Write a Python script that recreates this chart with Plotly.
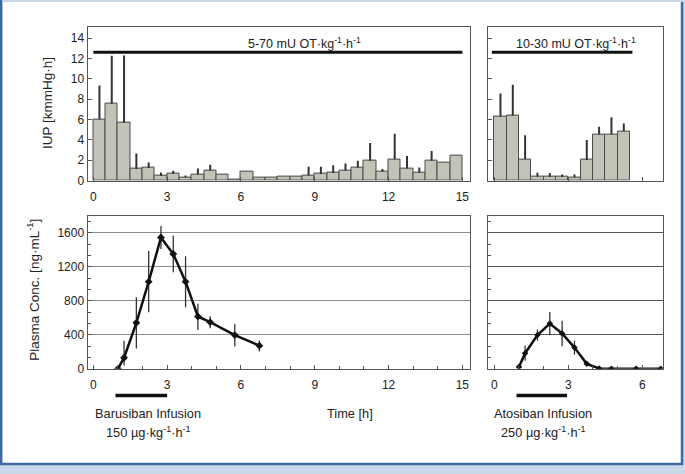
import plotly.graph_objects as go

# ---------------- data ----------------
# IUP bars (0.5 h bins), Barusiban study (left)
bin_start_L = [0, 0.5, 1, 1.5, 2, 2.5, 3, 3.5, 4, 4.5, 5, 5.5, 6, 6.5, 7, 7.5, 8, 8.5, 9, 9.5,
               10, 10.5, 11, 11.5, 12, 12.5, 13, 13.5, 14, 14.5]
iup_L = [6.03, 7.55, 5.68, 1.13, 1.23, 0.45, 0.68, 0.32, 0.6, 1.0, 0.58, 0.13, 0.87, 0.29, 0.27,
         0.35, 0.35, 0.5, 0.65, 0.74, 0.97, 1.26, 1.94, 0.87, 2.1, 1.19, 0.77, 1.94, 1.77, 2.45]
iup_L_top = [9.35, 12.26, 12.3, 2.65, 1.77, 0.8, 0.97, 0.5, 1.2, 1.55, 0.58, 0.13, 0.87, 0.29, 0.27,
             0.35, 0.35, 1.35, 1.35, 1.5, 1.68, 1.94, 3.7, 1.13, 4.6, 2.42, 1.29, 2.9, 1.77, 2.45]

# IUP bars, Atosiban study (right)
bin_start_R = [0, 0.5, 1, 1.5, 2, 2.5, 3, 3.5, 4, 4.5, 5]
iup_R = [6.29, 6.39, 2.1, 0.39, 0.35, 0.35, 0.32, 2.03, 4.52, 4.55, 4.84]
iup_R_top = [8.55, 9.42, 4.45, 0.77, 0.74, 0.6, 0.6, 4.0, 5.29, 6.23, 5.6]

# Plasma concentrations
t_baru = [1, 1.25, 1.75, 2.25, 2.75, 3.25, 3.75, 4.25, 4.75, 5.75, 6.75]
c_baru = [0, 130, 540, 1025, 1545, 1350, 1025, 615, 548, 397, 272]
e_baru_up = [0, 200, 300, 360, 135, 215, 300, 150, 70, 130, 60]
e_baru_dn = [0, 90, 300, 360, 135, 215, 300, 160, 70, 135, 70]

t_ato = [1, 1.25, 1.75, 2.25, 2.75, 3.25, 3.75, 4.25, 4.75, 5.75, 6.75]
c_ato = [20, 183, 396, 532, 415, 249, 58, 4, 0, 0, 0]
e_ato = [0, 90, 65, 135, 150, 80, 20, 0, 0, 0, 0]

# infusion periods [h]
baru_inf = [0.9, 3.0]
ato_inf = [0.9, 2.95]

bin_w = 0.5

W, H = 685, 474
def px(x): return x / W
def py(y): return 1 - y / H

FONT = "Liberation Sans, Arial, sans-serif"
BAR_FILL = "#c2c2b6"
BAR_LINE = "#4a4a4a"

fig = go.Figure()

def add_bars(starts, vals, tops, xa, ya):
    fig.add_trace(go.Bar(
        x=[s + bin_w / 2 for s in starts], y=vals, width=bin_w,
        marker=dict(color=BAR_FILL, line=dict(color=BAR_LINE, width=1)),
        error_y=dict(type="data", symmetric=False,
                     array=[t - v for t, v in zip(tops, vals)],
                     arrayminus=[0] * len(vals),
                     width=0, thickness=2, color="#333333"),
        xaxis=xa, yaxis=ya, showlegend=False))

add_bars(bin_start_L, iup_L, iup_L_top, "x", "y")
add_bars(bin_start_R, iup_R, iup_R_top, "x2", "y2")

fig.add_trace(go.Scatter(
    x=t_baru, y=c_baru, mode="lines+markers",
    line=dict(color="#111111", width=2.5),
    marker=dict(symbol="diamond", size=6, color="#111111"),
    error_y=dict(type="data", symmetric=False, array=e_baru_up, arrayminus=e_baru_dn,
                 width=0, thickness=1.3, color="#333333"),
    xaxis="x3", yaxis="y3", showlegend=False))

fig.add_trace(go.Scatter(
    x=t_ato, y=c_ato, mode="lines+markers",
    line=dict(color="#111111", width=2.5),
    marker=dict(symbol="diamond", size=5, color="#111111"),
    error_y=dict(type="data", array=e_ato, width=0, thickness=1.3, color="#333333"),
    xaxis="x4", yaxis="y4", showlegend=False))

tickfont = dict(family=FONT, size=12, color="#222222")
common = dict(showline=True, linecolor="#555555", linewidth=1, mirror=True,
              ticks="inside", ticklen=4, tickcolor="#555555", tickfont=tickfont,
              zeroline=False, showgrid=False, fixedrange=True)
xcommon = dict(common, ticklabelstandoff=5)

dom_xL = [px(87.5), px(470)]
dom_xR = [px(488), px(663)]
dom_yT = [py(183.3), py(27)]
dom_yB = [py(374.3), py(219)]

fig.update_layout(
    autosize=True,
    margin=dict(l=0, r=0, t=0, b=0),
    paper_bgcolor="#c9d7e8", plot_bgcolor="white",
    bargap=0,
    font=dict(family=FONT, color="#222222"),
    xaxis=dict(domain=dom_xL, anchor="y", range=[-0.236, 15.31], dtick=3, tick0=0, **xcommon),
    yaxis=dict(domain=dom_yT, anchor="x", range=[0, 15.13], dtick=2, tick0=0, **common),
    xaxis2=dict(domain=dom_xR, anchor="y2", range=[-0.255, 6.84], dtick=3, tick0=0,
                showticklabels=False, **xcommon),
    yaxis2=dict(domain=dom_yT, anchor="x2", range=[0, 15.13], dtick=2, tick0=0,
                showticklabels=False, **common),
    xaxis3=dict(domain=dom_xL, anchor="y3", range=[-0.236, 15.31], dtick=3, tick0=0,
                minor=dict(dtick=1, ticks="inside", ticklen=3, tickcolor="#555555"), **xcommon),
    yaxis3=dict(domain=dom_yB, anchor="x3", range=[0, 1800], dtick=400, tick0=0,
                minor=dict(dtick=400 / 3, ticks="inside", ticklen=3, tickcolor="#555555"),
                **{**common, "showgrid": True}, gridcolor="#8c8c8c", gridwidth=1),
    xaxis4=dict(domain=dom_xR, anchor="y4", range=[-0.255, 6.84], dtick=3, tick0=0,
                minor=dict(dtick=1, ticks="inside", ticklen=3, tickcolor="#555555"), **xcommon),
    yaxis4=dict(domain=dom_yB, anchor="x4", range=[0, 1800], dtick=400, tick0=0,
                showticklabels=False,
                minor=dict(dtick=400 / 3, ticks="inside", ticklen=3, tickcolor="#555555"),
                **{**common, "showgrid": True}, gridcolor="#555555", gridwidth=1),
)

shapes = [
    # frame
    dict(type="rect", xref="paper", yref="paper", x0=px(1.2), x1=px(682), y0=py(471), y1=py(-3),
         fillcolor="white", line=dict(color="#3d6a9e", width=2.5), layer="below"),
    dict(type="rect", xref="paper", yref="paper", x0=px(2.5), x1=1, y0=py(2), y1=1,
         fillcolor="#c9d7e8", line=dict(width=0), layer="below"),
    # dosing bars in top panels
    dict(type="line", xref="x", yref="y", x0=0, x1=15, y0=12.6, y1=12.6,
         line=dict(color="#111111", width=3)),
    dict(type="line", xref="x2", yref="y2", x0=-0.1, x1=5.6, y0=12.6, y1=12.6,
         line=dict(color="#111111", width=3)),
    # infusion bars below time axis
    dict(type="line", xref="x3", yref="paper", x0=baru_inf[0], x1=baru_inf[1],
         y0=py(401.5), y1=py(401.5), line=dict(color="#111111", width=3.5)),
    dict(type="line", xref="x4", yref="paper", x0=ato_inf[0], x1=ato_inf[1],
         y0=py(401.5), y1=py(401.5), line=dict(color="#111111", width=3.5)),
]
fig.update_layout(shapes=shapes)

tf = dict(family=FONT, size=12.8, color="#222222")
ann = [
    dict(text="IUP [kmmHg·h]", x=px(47.5), y=py(105), textangle=-90, font=dict(tf, size=13.5)),
    dict(text="Plasma Conc. [ng·mL<sup>-1</sup>]", x=px(33), y=py(294), textangle=-90,
         font=dict(tf, size=13.5)),
    dict(text="5-70 mU OT·kg<sup>-1</sup>·h<sup>-1</sup>", x=px(304), y=py(44), font=dict(tf, size=12.5)),
    dict(text="10-30 mU OT·kg<sup>-1</sup>·h<sup>-1</sup>", x=px(576), y=py(44), font=dict(tf, size=12.5)),
    dict(text="Barusiban Infusion", x=px(148.3), y=py(420), font=tf),
    dict(text="150 µg·kg<sup>-1</sup>·h<sup>-1</sup>", x=px(148.3), y=py(438.5), font=tf),
    dict(text="Time [h]", x=px(350), y=py(420), font=tf),
    dict(text="Atosiban Infusion", x=px(543.3), y=py(419.5), font=tf),
    dict(text="250 µg·kg<sup>-1</sup>·h<sup>-1</sup>", x=px(543.3), y=py(438.5), font=tf),
]
fig.update_layout(annotations=[dict(xref="paper", yref="paper", showarrow=False,
                                    xanchor="center", yanchor="middle", **a)
                               for a in ann])

post = (
    "document.documentElement.style.margin='0';document.documentElement.style.overflow='hidden';"
    "document.body.style.margin='0';document.body.style.overflow='hidden';"
    "var d=document.getElementById('{plot_id}');"
    "d.style.position='fixed';d.style.left='0px';d.style.top='0px';"
    "window.dispatchEvent(new Event('resize'));"
)
fig.write_html("out.html", config={"displayModeBar": False, "responsive": True},
               default_width="100vw", default_height="100vh", post_script=post)
